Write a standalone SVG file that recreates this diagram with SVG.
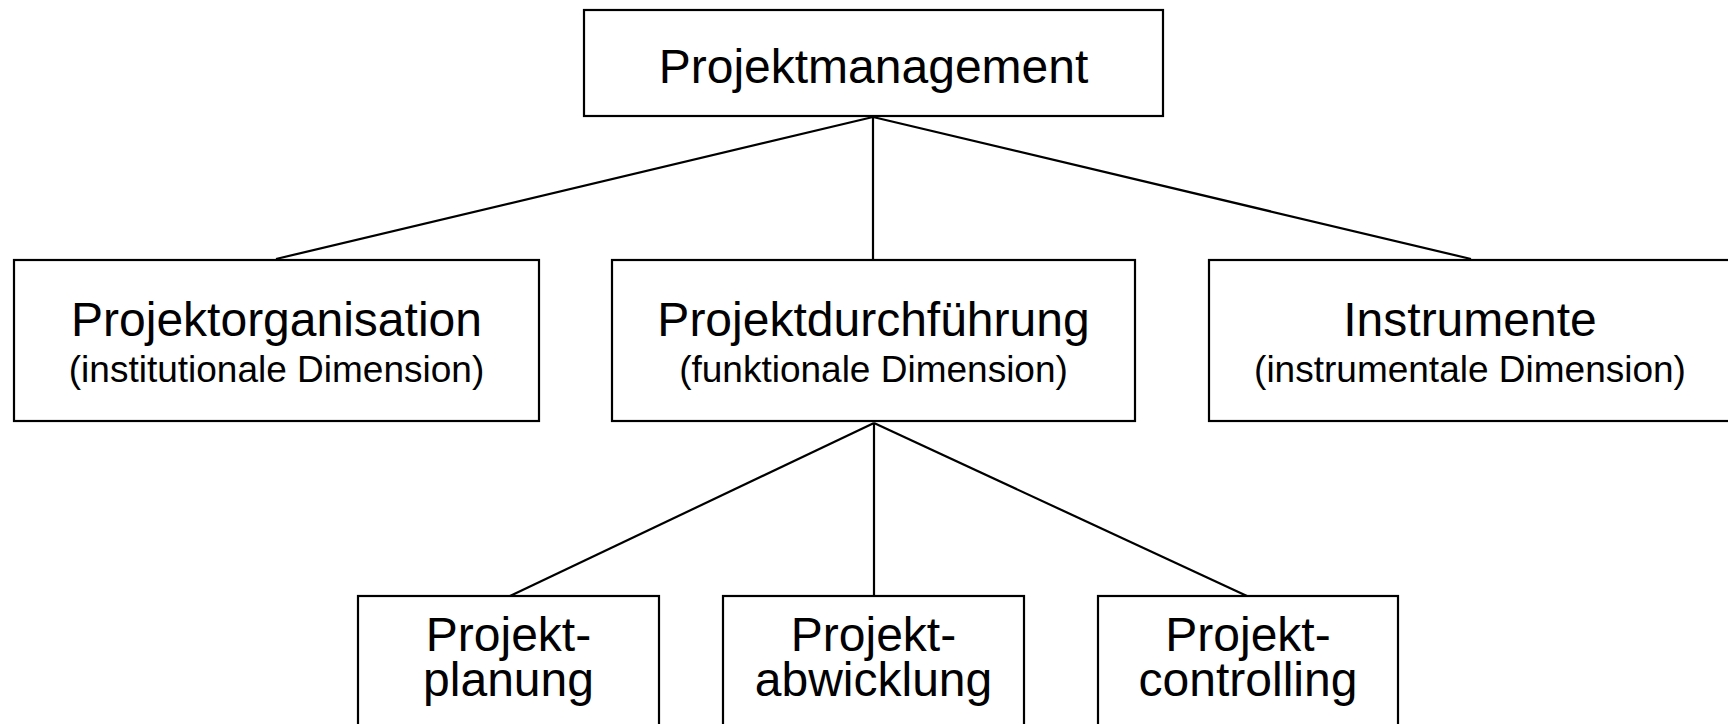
<svg xmlns="http://www.w3.org/2000/svg" width="1728" height="724" viewBox="0 0 1728 724">
<style>
.box{fill:#fff;stroke:#000;stroke-width:2.2}
.lbl{font-family:"Liberation Sans",Arial,sans-serif;font-size:48px;fill:#000;text-anchor:middle}
.sub{font-family:"Liberation Sans",Arial,sans-serif;font-size:37px;fill:#000;text-anchor:middle}
.con{stroke:#000;stroke-width:2.2;fill:none}
</style>
<rect width="1728" height="724" fill="#fff"/>
<g id="connectors">
<line class="con" x1="873" y1="117" x2="276" y2="259"/>
<line class="con" x1="873" y1="117" x2="873" y2="259"/>
<line class="con" x1="873" y1="117" x2="1471" y2="259"/>
<line class="con" x1="874" y1="423" x2="510" y2="596"/>
<line class="con" x1="874" y1="423" x2="874" y2="596"/>
<line class="con" x1="874" y1="423" x2="1247" y2="596"/>
</g>
<g id="n-projektmanagement">
<rect class="box" x="584" y="10" width="579" height="106"/>
<text class="lbl" x="873.5" y="83">Projektmanagement</text>
</g>
<g id="n-projektorganisation">
<rect class="box" x="14" y="260" width="525" height="161"/>
<text class="lbl" x="276.5" y="336">Projektorganisation</text>
<text class="sub" x="276.5" y="382">(institutionale Dimension)</text>
</g>
<g id="n-projektdurchfuehrung">
<rect class="box" x="612" y="260" width="523" height="161"/>
<text class="lbl" x="873.5" y="336">Projektdurchführung</text>
<text class="sub" x="873.5" y="382">(funktionale Dimension)</text>
</g>
<g id="n-instrumente">
<rect class="box" x="1209" y="260" width="524" height="161"/>
<text class="lbl" x="1470" y="336">Instrumente</text>
<text class="sub" x="1470" y="382">(instrumentale Dimension)</text>
</g>
<g id="n-projektplanung">
<rect class="box" x="358" y="596" width="301" height="140"/>
<text class="lbl" x="508.5" y="651">Projekt-</text>
<text class="lbl" x="508.5" y="696">planung</text>
</g>
<g id="n-projektabwicklung">
<rect class="box" x="723" y="596" width="301" height="140"/>
<text class="lbl" x="873.5" y="651">Projekt-</text>
<text class="lbl" x="873.5" y="696">abwicklung</text>
</g>
<g id="n-projektcontrolling">
<rect class="box" x="1098" y="596" width="300" height="140"/>
<text class="lbl" x="1248" y="651">Projekt-</text>
<text class="lbl" x="1248" y="696">controlling</text>
</g>
</svg>
